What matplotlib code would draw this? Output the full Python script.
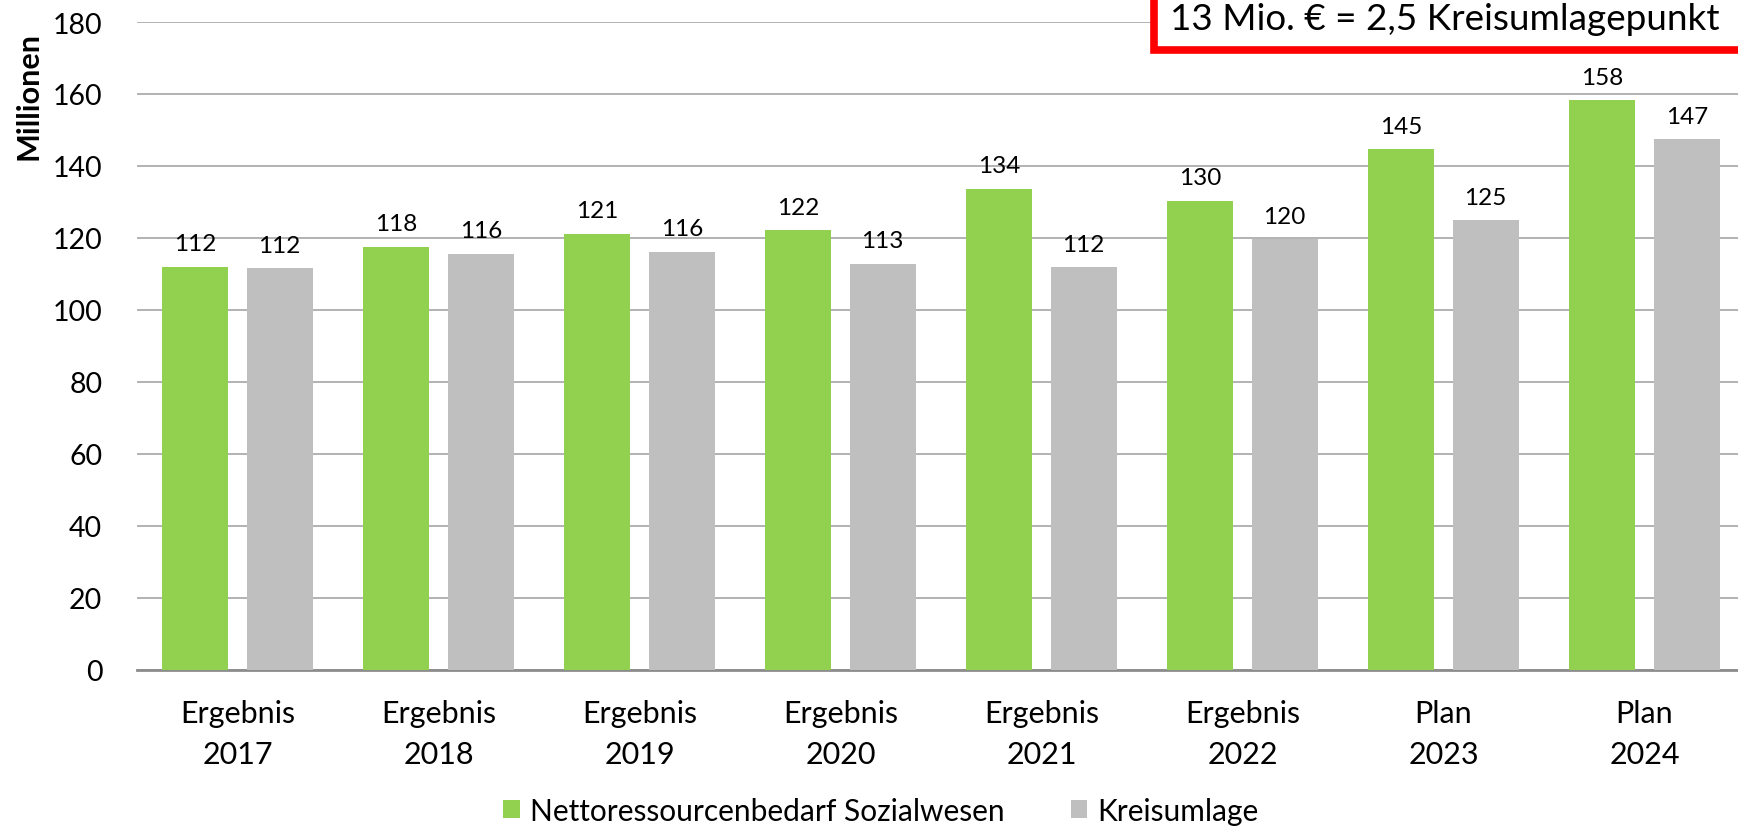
import numpy as np
import matplotlib
matplotlib.use("Agg")
import matplotlib.pyplot as plt
from matplotlib.patches import Rectangle

plt.rcParams['font.family'] = ['Lato', 'DejaVu Sans']

categories = ["Ergebnis\n2017", "Ergebnis\n2018", "Ergebnis\n2019", "Ergebnis\n2020",
              "Ergebnis\n2021", "Ergebnis\n2022", "Plan\n2023", "Plan\n2024"]
sozial = [112.0, 117.6, 121.2, 122.1, 133.6, 130.4, 144.6, 158.2]
kreisumlage = [111.6, 115.6, 116.2, 112.9, 111.9, 119.6, 124.9, 147.4]
series_names = ["Nettoressourcenbedarf Sozialwesen", "Kreisumlage"]
yticks = [0, 20, 40, 60, 80, 100, 120, 140, 160, 180]
note = "13 Mio. € = 2,5 Kreisumlagepunkt"

W, H = 1738, 829
fig = plt.figure(figsize=(W / 100, H / 100), dpi=100)
# plot area in pixels: x 137..1745, y 23..671
ax = fig.add_axes([137 / W, 1 - 671 / H, 1608 / W, 648 / H])

x = np.arange(len(categories))
bw = 0.33
off = 0.21
b1 = ax.bar(x - off, sozial, bw, color='#92D050', label=series_names[0], zorder=3)
b2 = ax.bar(x + off, kreisumlage, bw, color='#BFBFBF', label=series_names[1], zorder=3)

for bars, vals in ((b1, sozial), (b2, kreisumlage)):
    for rect, v in zip(bars, vals):
        ax.text(rect.get_x() + rect.get_width() / 2, v + 3.5, f"{v:.0f}",
                ha='center', va='bottom', fontsize=17.5, color='black', zorder=4)

ax.set_xlim(-0.5, len(categories) - 0.5)
ax.set_ylim(0, 180)
ax.set_yticks(yticks)
ax.set_xticks(x)
ax.set_xticklabels(categories, fontsize=22, linespacing=1.55)
ax.tick_params(axis='y', labelsize=20.5, length=0, pad=25)
ax.tick_params(axis='x', length=0, pad=21)
ax.grid(axis='y', color='#A6A6A6', linewidth=1.2, zorder=0)
for s in ('top', 'right', 'left'):
    ax.spines[s].set_visible(False)
ax.spines['bottom'].set_color('#8C8C8C')
ax.spines['bottom'].set_linewidth(2)

fig.text(29 / W, 1 - 96 / H, "Millionen", rotation=90, ha='center', va='center',
         fontsize=22, fontweight='bold')

# red note box, runs off the right edge
fig.patches.append(Rectangle((1154 / W, 1 - 51 / H), 700 / W, 80 / H,
                             transform=fig.transFigure, facecolor='white',
                             edgecolor='#FF0000', linewidth=5.5, zorder=5))
fig.text(1170 / W, 1 - 19 / H, note, ha='left', va='center', fontsize=26.6, zorder=6)

fig.legend(handles=[b1, b2], labels=series_names, loc='center', ncol=2,
           bbox_to_anchor=(881 / W, 1 - 812 / H), frameon=False, fontsize=21.5,
           handlelength=0.55, handleheight=0.55, handletextpad=0.35, columnspacing=2.2)

fig.savefig("out.png", dpi=100)
